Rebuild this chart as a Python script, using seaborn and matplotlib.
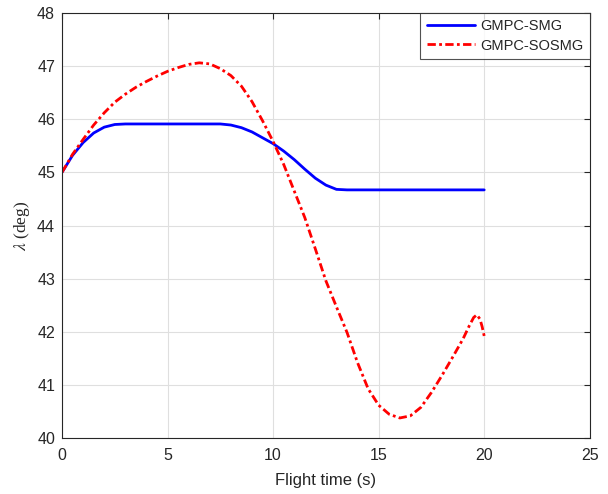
import numpy as np
import pandas as pd
import matplotlib
matplotlib.use("Agg")
import matplotlib.pyplot as plt
import seaborn as sns

# Data
t_smg = [0, 0.5, 1.0, 1.5, 2.0, 2.5, 3.0, 4.0, 5.0, 6.0, 7.0, 7.5, 8.0, 8.5, 9.0, 9.5,
         10.0, 10.5, 11.0, 11.5, 12.0, 12.5, 13.0, 13.5, 15.0, 17.0, 19.0, 20.0]
v_smg = [45.00, 45.32, 45.56, 45.74, 45.85, 45.90, 45.91, 45.91, 45.91, 45.91, 45.91, 45.91,
         45.89, 45.84, 45.76, 45.65, 45.54, 45.40, 45.24, 45.06, 44.89, 44.76, 44.68, 44.67,
         44.67, 44.67, 44.67, 44.67]

t_sos = [0, 0.5, 1.0, 1.5, 2.0, 2.5, 3.0, 3.5, 4.0, 4.5, 5.0, 5.5, 6.0, 6.5, 7.0, 7.5, 8.0,
         8.5, 9.0, 9.5, 10.0, 10.5, 11.0, 11.5, 12.0, 12.5, 13.0, 13.5, 14.0, 14.5, 15.0,
         15.5, 16.0, 16.5, 17.0, 17.5, 18.0, 18.5, 19.0, 19.3, 19.5, 19.65, 19.8, 19.9, 20.0]
v_sos = [45.00, 45.34, 45.62, 45.89, 46.12, 46.32, 46.47, 46.60, 46.71, 46.81, 46.90, 46.97,
         47.03, 47.06, 47.04, 46.95, 46.82, 46.62, 46.33, 45.97, 45.58, 45.15, 44.65, 44.15,
         43.56, 42.96, 42.47, 41.99, 41.42, 40.93, 40.62, 40.45, 40.38, 40.42, 40.58, 40.86,
         41.18, 41.52, 41.87, 42.12, 42.27, 42.32, 42.24, 42.10, 41.92]

series_names = ["GMPC-SMG", "GMPC-SOSMG"]
x_ticks = [0, 5, 10, 15, 20, 25]
y_ticks = [40, 41, 42, 43, 44, 45, 46, 47, 48]

df = pd.concat([
    pd.DataFrame({"t": t_smg, "v": v_smg, "s": series_names[0]}),
    pd.DataFrame({"t": t_sos, "v": v_sos, "s": series_names[1]}),
])

sns.set_style("white")
plt.rcParams['font.family'] = ['Liberation Sans', 'DejaVu Sans']
plt.rcParams['mathtext.fontset'] = 'stix'

fig = plt.figure(figsize=(6.08, 4.94), dpi=100)
ax = fig.add_axes([0.102, 0.113, 0.868, 0.861])

sns.lineplot(data=df, x="t", y="v", hue="s", style="s",
             palette={series_names[0]: "#0000FF", series_names[1]: "#FF0000"},
             dashes={series_names[0]: "", series_names[1]: (3.0, 1.2, 1.0, 1.2)},
             linewidth=2.0, sort=False, estimator=None, ax=ax)

ax.set_xlim(0, 25)
ax.set_ylim(40, 48)
ax.set_xticks(x_ticks)
ax.set_yticks(y_ticks)
ax.grid(True, color="#DFDFDF", linewidth=0.8)
ax.set_axisbelow(True)
for sp in ax.spines.values():
    sp.set_visible(True)
    sp.set_color("#262626")
    sp.set_linewidth(0.8)
ax.tick_params(direction="in", length=4, width=0.8, colors="#262626",
               labelsize=11.5, top=True, right=True)
ax.tick_params(axis="x", pad=7)
ax.tick_params(axis="y", pad=5)
ax.set_xlabel("Flight time (s)", fontsize=12, color="#262626", labelpad=7)
ax.set_ylabel(r"$\lambda$ (deg)", fontsize=12.5, color="#262626", labelpad=4,
              family=["Liberation Serif", "DejaVu Serif"])

leg = ax.legend(loc="upper right", fontsize=10.5, frameon=True, fancybox=False,
                edgecolor="#262626", borderaxespad=0.0, handlelength=3.3,
                handletextpad=0.35, borderpad=0.45, labelspacing=0.35)
leg.get_frame().set_linewidth(0.8)
leg.set_title(None)

fig.savefig("out.png", dpi=100, facecolor="white")
